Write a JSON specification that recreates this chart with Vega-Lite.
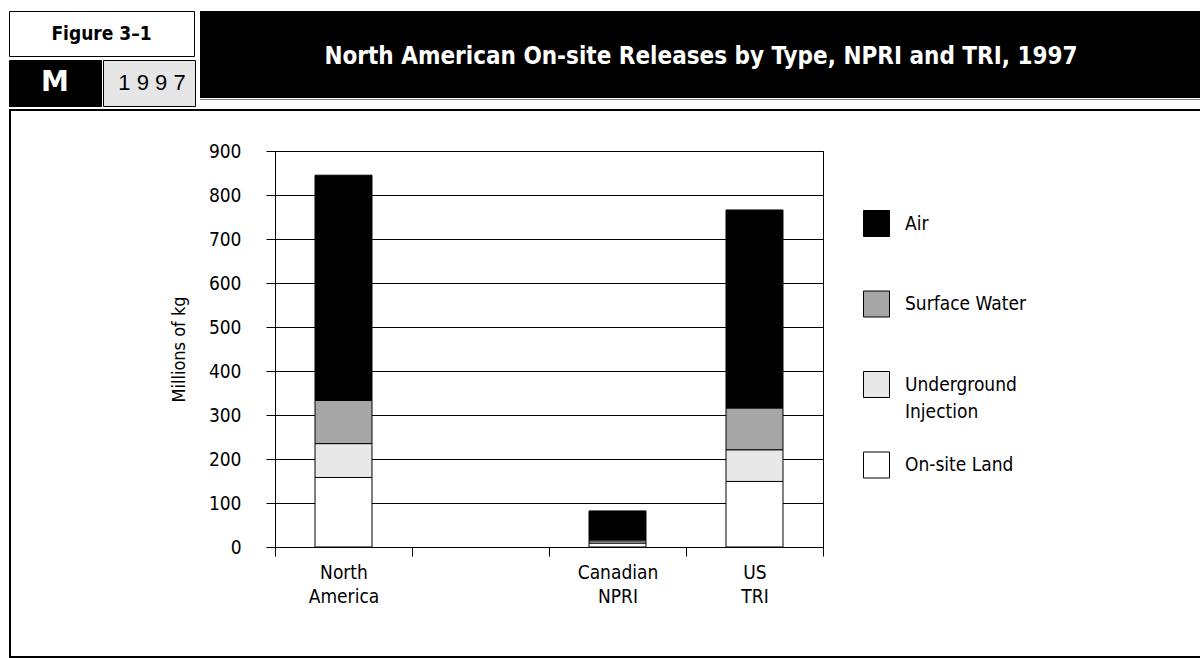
{
  "$schema": "https://vega.github.io/schema/vega-lite/v6.json",
  "padding": {"left": 8, "top": 10, "right": 0, "bottom": 0},
  "background": "white",
  "config": {
    "font": "DejaVu Sans Condensed",
    "view": {"stroke": null},
    "concat": {"spacing": 0}
  },
  "datasets": {
    "releases": [
      {"region": "North America", "type": "On-site Land", "layer": 1, "value": 158},
      {"region": "North America", "type": "Underground Injection", "layer": 2, "value": 77},
      {"region": "North America", "type": "Surface Water", "layer": 3, "value": 98},
      {"region": "North America", "type": "Air", "layer": 4, "value": 512},
      {"region": "Canadian NPRI", "type": "On-site Land", "layer": 1, "value": 9},
      {"region": "Canadian NPRI", "type": "Underground Injection", "layer": 2, "value": 5},
      {"region": "Canadian NPRI", "type": "Surface Water", "layer": 3, "value": 3},
      {"region": "Canadian NPRI", "type": "Air", "layer": 4, "value": 65},
      {"region": "US TRI", "type": "On-site Land", "layer": 1, "value": 149},
      {"region": "US TRI", "type": "Underground Injection", "layer": 2, "value": 72},
      {"region": "US TRI", "type": "Surface Water", "layer": 3, "value": 95},
      {"region": "US TRI", "type": "Air", "layer": 4, "value": 450}
    ],
    "blank": [{"t": ""}]
  },
  "spacing": 2,
  "resolve": {"scale": {"color": "independent"}, "legend": {"color": "independent"}},
  "vconcat": [
    {
      "spacing": 4,
      "hconcat": [
        {
          "spacing": 2,
          "vconcat": [
            {
              "width": 185, "height": 45,
              "view": {"fill": "white", "stroke": "black", "strokeWidth": 1},
              "data": {"values": [{"t": "Figure 3–1"}]},
              "mark": {"type": "text", "font": "DejaVu Sans Condensed", "fontWeight": "bold", "fontSize": 19, "color": "black"},
              "encoding": {"text": {"field": "t", "type": "nominal"}}
            },
            {
              "spacing": 0,
              "hconcat": [
                {
                  "width": 92, "height": 46,
                  "view": {"fill": "black", "stroke": "black"},
                  "data": {"values": [{"t": "M"}]},
                  "mark": {"type": "text", "font": "DejaVu Sans", "fontWeight": "bold", "fontSize": 28, "color": "white"},
                  "encoding": {"text": {"field": "t", "type": "nominal"}}
                },
                {
                  "width": 92, "height": 46,
                  "view": {"fill": "#e6e6e6", "stroke": "black", "strokeWidth": 1},
                  "data": {"values": [{"t": "1 9 9 7"}]},
                  "mark": {"type": "text", "font": "Liberation Sans", "fontWeight": "normal", "fontSize": 22, "color": "black", "dx": 3},
                  "encoding": {"text": {"field": "t", "type": "nominal"}}
                }
              ]
            }
          ]
        },
        {
          "spacing": 1,
          "vconcat": [
            {
              "width": 1002, "height": 87,
              "view": {"fill": "black", "stroke": null},
              "data": {"values": [{"t": "North American On-site Releases by Type, NPRI and TRI, 1997"}]},
              "mark": {"type": "text", "font": "DejaVu Sans Condensed", "fontWeight": "bold", "fontSize": 24, "color": "white", "dy": 2},
              "encoding": {"text": {"field": "t", "type": "nominal"}}
            },
            {
              "width": 1002, "height": 1,
              "view": {"fill": "#888888", "stroke": null},
              "data": {"name": "blank"},
              "mark": {"type": "text", "fontSize": 0},
              "encoding": {"text": {"field": "t", "type": "nominal"}}
            }
          ]
        }
      ]
    },
    {
      "spacing": 0,
      "resolve": {"scale": {"color": "independent"}, "legend": {"color": "independent"}},
      "vconcat": [
        {
          "width": 1192, "height": 2,
          "view": {"fill": "black", "stroke": null},
          "data": {"name": "blank"},
          "mark": {"type": "text", "fontSize": 0},
          "encoding": {"text": {"field": "t", "type": "nominal"}}
        },
        {
          "spacing": 158,
          "resolve": {"scale": {"color": "independent"}, "legend": {"color": "independent"}},
          "hconcat": [
            {
              "width": 2, "height": 545,
              "view": {"fill": "black", "stroke": null},
              "data": {"name": "blank"},
              "mark": {"type": "text", "fontSize": 0},
              "encoding": {"text": {"field": "t", "type": "nominal"}}
            },
            {
              "spacing": 29,
              "resolve": {"scale": {"color": "independent"}, "legend": {"color": "independent"}},
              "vconcat": [
                {
                  "width": 1, "height": 1,
                  "data": {"name": "blank"},
                  "mark": {"type": "text", "fontSize": 0},
                  "encoding": {"text": {"field": "t", "type": "nominal"}}
                },
                {
                  "width": 548, "height": 396,
                  "data": {"name": "releases"},
                  "view": {"stroke": "black", "strokeWidth": 1},
                  "mark": {"type": "bar", "stroke": "black", "strokeWidth": 1, "width": {"band": 0.416}},
                  "encoding": {
                    "x": {
                      "field": "region", "type": "nominal",
                      "scale": {"domain": ["North America", "_gap", "Canadian NPRI", "US TRI"], "paddingInner": 0, "paddingOuter": 0},
                      "axis": {
                        "title": null, "labelAngle": 0,
                        "labelExpr": "datum.label == '_gap' ? '' : split(datum.label, ' ')",
                        "tickBand": "extent", "tickSize": 9, "tickColor": "black", "tickWidth": 1,
                        "domainColor": "black", "labelFontSize": 19, "labelColor": "black",
                        "labelPadding": 7, "labelLineHeight": 24, "labelBaseline": "top", "grid": false
                      }
                    },
                    "y": {
                      "field": "value", "type": "quantitative", "stack": "zero",
                      "scale": {"domain": [0, 900], "nice": false},
                      "axis": {
                        "title": "Millions of kg",
                        "values": [0, 100, 200, 300, 400, 500, 600, 700, 800, 900],
                        "grid": true, "gridColor": "black", "gridOpacity": 1, "gridWidth": 1,
                        "tickSize": 9, "tickColor": "black", "tickWidth": 1, "domain": false,
                        "labelFontSize": 19, "labelColor": "black", "labelPadding": 25,
                        "titleFontSize": 18, "titleFontWeight": "normal", "titleColor": "black", "titlePadding": 20
                      }
                    },
                    "order": {"field": "layer", "type": "quantitative", "sort": "ascending"},
                    "color": {
                      "field": "type", "type": "nominal",
                      "scale": {
                        "domain": ["On-site Land", "Underground Injection", "Surface Water", "Air"],
                        "range": ["#ffffff", "#e8e8e8", "#a6a6a6", "#000000"]
                      },
                      "legend": {
                        "title": null, "orient": "none", "legendX": 588, "legendY": 59,
                        "values": ["Air", "Surface Water", "Underground Injection", "On-site Land"],
                        "symbolType": "square", "symbolSize": 676,
                        "symbolStrokeColor": "black", "symbolStrokeWidth": 1, "symbolOpacity": 1,
                        "labelFontSize": 19, "labelColor": "black", "labelOffset": 15, "labelLimit": 300,
                        "labelExpr": "datum.label == 'Underground Injection' ? ['Underground', 'Injection'] : datum.label",
                        "rowPadding": 27.5, "gridAlign": "all",
                        "encode": {"labels": {"update": {"lineHeight": {"value": 27}}}}
                      }
                    }
                  }
                }
              ]
            }
          ]
        },
        {
          "width": 1192, "height": 3,
          "view": {"fill": "black", "stroke": null},
          "data": {"name": "blank"},
          "mark": {"type": "text", "fontSize": 0},
          "encoding": {"text": {"field": "t", "type": "nominal"}}
        }
      ]
    }
  ]
}
